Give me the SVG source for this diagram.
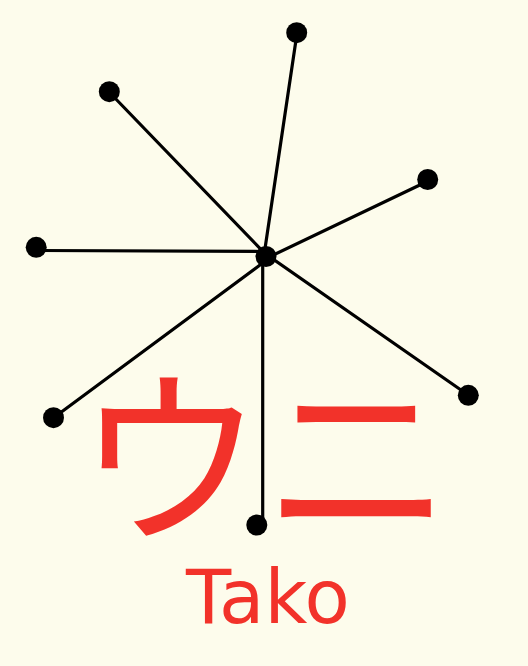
<svg xmlns="http://www.w3.org/2000/svg" width="528" height="666" viewBox="0 0 528 666">
<style>
.edge{stroke:#000;stroke-width:3.2;fill:none;stroke-linecap:round}
.dot{fill:#000}
.title{fill:#f2322a;font-family:"Noto Sans CJK JP","Noto Sans",sans-serif}
.sub{fill:#f2322a;font-family:"DejaVu Sans",sans-serif}
</style>
<rect width="528" height="666" fill="#fdfcec"/>
<g id="connectors">
<line class="edge" x1="296" y1="40" x2="264.5" y2="252"/>
<line class="edge" x1="112" y1="95" x2="265" y2="253.6"/>
<line class="edge" x1="424" y1="183" x2="266" y2="258.5"/>
<line class="edge" x1="38" y1="250.5" x2="266" y2="251.5"/>
<line class="edge" x1="56" y1="416" x2="266" y2="260.5"/>
<line class="edge" x1="466" y1="393.5" x2="266" y2="254.2"/>
<line class="edge" x1="262.7" y1="256" x2="262.7" y2="520"/>
</g>
<g id="hub"><circle class="dot" cx="266" cy="256.5" r="10.5"/></g>
<g id="n1"><circle class="dot" cx="296.7" cy="32.7" r="10.5"/></g>
<g id="n2"><circle class="dot" cx="109.3" cy="91.7" r="10.5"/></g>
<g id="n3"><circle class="dot" cx="427.7" cy="179.5" r="10.5"/></g>
<g id="n4"><circle class="dot" cx="36.2" cy="247.3" r="10.5"/></g>
<g id="n5"><circle class="dot" cx="53.5" cy="417.7" r="10.5"/></g>
<g id="n6"><circle class="dot" cx="468.3" cy="395.3" r="10.5"/></g>
<g id="n7"><circle class="dot" cx="256.8" cy="525" r="10.5"/></g>
<g id="label">
<text class="title" x="76" y="528" font-size="188">ウニ</text>
<text class="sub" x="268" y="623" font-size="74" text-anchor="middle">Tako</text>
</g>
</svg>
